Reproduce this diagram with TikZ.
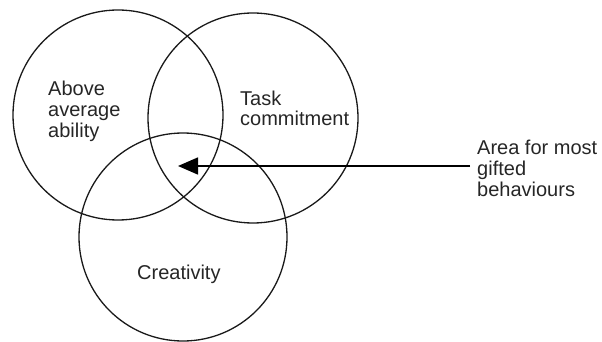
\documentclass[tikz,border=0pt]{standalone}
\usepackage{fontspec}
\setmainfont{Liberation Sans}
\usetikzlibrary{arrows.meta}
\begin{document}
\begin{tikzpicture}[x=1pt,y=-1pt,
  ring/.style={draw=black!90,line width=1.3pt},
  lbl/.style={inner sep=0pt,align=left,text=black!85,font=\fontsize{20}{20.5}\selectfont},
  pointer/.style={draw=black,line width=1.5pt,-{Triangle[length=20pt,width=17pt]}}]
\useasboundingbox (0,0) rectangle (602,342);
\path[ring] (118,115) circle[radius=105];
\path[ring] (253,118) circle[radius=105];
\path[ring] (183,237) circle[radius=104];
\node[lbl,anchor=base west] (above) at (48,137) {Above\\average\\ability};
\node[lbl,anchor=base west] (task) at (240,125.5) {Task\\commitment};
\node[lbl,anchor=base west] (crea) at (137,279) {Creativity};
\node[lbl,anchor=base west,inner xsep=7pt,font=\fontsize{20}{21.2}\selectfont] (area) at (470,196.7) {Area for most\\gifted\\behaviours};
\coordinate (tip) at (178,166);
\draw[pointer] (tip -| area.west) -- (tip);
\end{tikzpicture}
\end{document}
